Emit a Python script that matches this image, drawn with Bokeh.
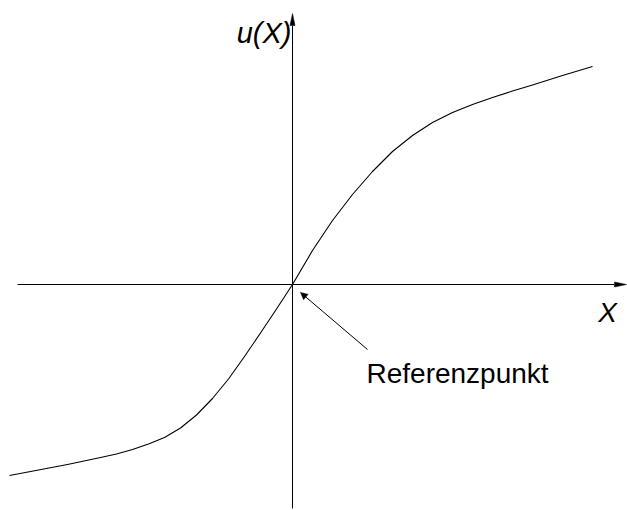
from bokeh.plotting import figure
from bokeh.models import Range1d, Arrow, NormalHead
from bokeh.core.properties import value
from bokeh.embed import file_html
from bokeh.resources import INLINE

# Value function curve (gains / losses relative to the reference point)
gain_x = [0, 20, 40, 60, 80, 100, 120, 140, 160, 180, 200, 220, 240, 270, 300]
gain_y = [0, 34, 64, 90, 113, 133, 149, 162, 172, 180, 187, 193.5, 199.5, 209, 218]
loss_x = [-283, -225, -192, -176, -160, -144, -128, -112, -96, -80, -64, -48, -32, -16, 0]
loss_y = [-191, -180, -173, -169.5, -165, -159.5, -153, -143.5, -130.5, -114, -94.5, -72, -48.5, -24.5, 0]

y_label = "u(X)"
x_label = "X"
ref_label = "Referenzpunkt"

W, H = 627, 510
p = figure(width=W, height=H, output_backend="svg", toolbar_location=None,
           x_range=Range1d(-292, 335), y_range=Range1d(-226, 284),
           min_border=0, min_border_left=0, min_border_right=0,
           min_border_top=0, min_border_bottom=0)
p.axis.visible = False
p.grid.visible = False
p.outline_line_color = None
p.background_fill_color = "white"
p.border_fill_color = "white"

# axes extents (layout)
x_ax = (-275, 334)
y_ax = (-224, 271)
head_len, head_w = 12, 5

p.line([x_ax[0], x_ax[1] - head_len], [0, 0], line_color="black", line_width=1)
p.line([0, 0], [y_ax[0], y_ax[1] - head_len], line_color="black", line_width=1)
p.patch([x_ax[1], x_ax[1] - head_len, x_ax[1] - head_len],
        [0, head_w / 2, -head_w / 2], fill_color="black", line_color="black", line_width=0.5)
p.patch([0, head_w / 2, -head_w / 2],
        [y_ax[1], y_ax[1] - head_len, y_ax[1] - head_len], fill_color="black", line_color="black", line_width=0.5)

# curve
p.line(loss_x + gain_x[1:], loss_y + gain_y[1:], line_color="black", line_width=1.1,
       line_join="round")

# reference arrow
p.add_layout(Arrow(end=NormalHead(size=7, fill_color="black", line_color="black", line_width=0.5),
                   x_start=75, y_start=-65, x_end=8, y_end=-8,
                   line_color="black", line_width=1))

p.text(x=[-1], y=[252], text=[y_label], text_align="right", text_baseline="alphabetic",
       text_font=value("Liberation Sans"), text_font_style="italic",
       text_font_size="29px", text_color="black")
p.text(x=[315], y=[-28], text=[x_label], text_align="center", text_baseline="alphabetic",
       text_font=value("Liberation Sans"), text_font_style="italic",
       text_font_size="28px", text_color="black")
p.text(x=[74], y=[-89], text=[ref_label], text_align="left", text_baseline="alphabetic",
       text_font=value("Liberation Sans"), text_font_size="28px", text_color="black")

open("out.html", "w").write(file_html(p, INLINE))
